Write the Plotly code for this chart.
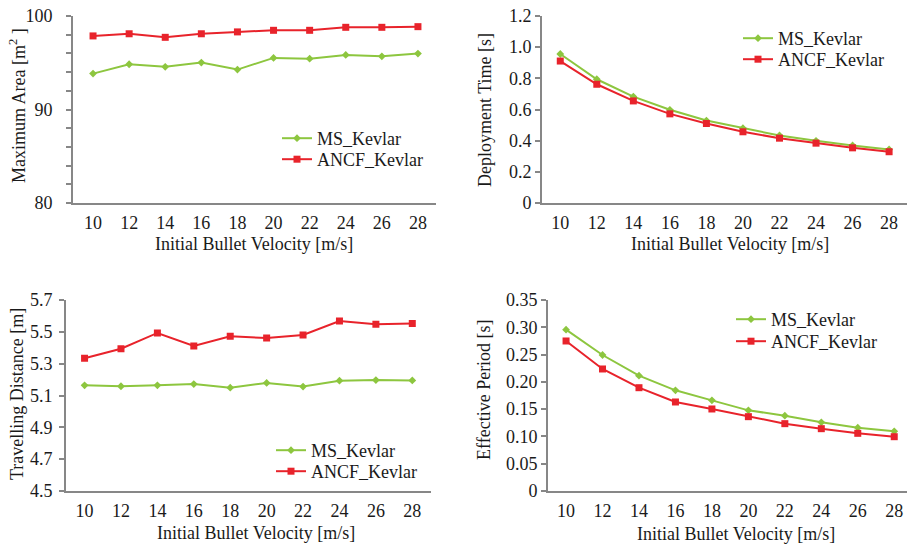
import plotly.graph_objects as go

# Initial bullet velocity [m/s]
velocity = [10, 12, 14, 16, 18, 20, 22, 24, 26, 28]

# Maximum area [m^2]
area_ms = [93.84, 94.84, 94.56, 95.02, 94.27, 95.52, 95.44, 95.84, 95.69, 95.98]
area_ancf = [97.87, 98.10, 97.72, 98.10, 98.30, 98.47, 98.47, 98.79, 98.79, 98.86]

# Deployment time [s]
deploy_ms = [0.956, 0.794, 0.683, 0.598, 0.529, 0.480, 0.433, 0.399, 0.369, 0.344]
deploy_ancf = [0.911, 0.762, 0.655, 0.572, 0.510, 0.457, 0.416, 0.384, 0.354, 0.329]

# Travelling distance [m]
dist_ms = [5.164, 5.158, 5.164, 5.172, 5.149, 5.179, 5.156, 5.193, 5.197, 5.195]
dist_ancf = [5.334, 5.394, 5.493, 5.411, 5.472, 5.461, 5.480, 5.568, 5.547, 5.553]

# Effective period [s]
period_ms = [0.2956, 0.2492, 0.2113, 0.1845, 0.1661, 0.1478, 0.1380, 0.1258, 0.1160, 0.1093]
period_ancf = [0.2749, 0.2236, 0.1893, 0.1631, 0.1503, 0.1362, 0.1234, 0.1142, 0.1057, 0.0995]

# Labelled ticks of the value axes
area_tickvals = [80, 90, 100]
area_ticktext = ["80", "90", "100"]
deploy_tickvals = [0, 0.2, 0.4, 0.6, 0.8, 1.0, 1.2]
deploy_ticktext = ["0", "0.2", "0.4", "0.6", "0.8", "1.0", "1.2"]
dist_tickvals = [4.5, 4.7, 4.9, 5.1, 5.3, 5.5, 5.7]
dist_ticktext = ["4.5", "4.7", "4.9", "5.1", "5.3", "5.5", "5.7"]
period_tickvals = [0, 0.05, 0.10, 0.15, 0.20, 0.25, 0.30, 0.35]
period_ticktext = ["0", "0.05", "0.10", "0.15", "0.20", "0.25", "0.30", "0.35"]

series_names = ["MS_Kevlar", "ANCF_Kevlar"]
x_title = "Initial Bullet Velocity [m/s]"

W, H = 907, 546
FONT = "Liberation Serif"
TEXT = "#1a1a1a"
AXIS = "#878787"
GREEN = "#8DC63F"
RED = "#E8232B"


def px_x(p):
    return p / W


def px_y(p):
    return 1 - p / H


panels = [
    dict(ms=area_ms, ancf=area_ancf, xdom=(73, 436), ydom=(16, 203), xr=(8.89, 29.0),
         yr=(80, 100), tv=area_tickvals, tt=area_ticktext, minor=2, ystand=10,
         ytitle="Maximum Area [m<sup>2</sup> ]", ytx=18, yty=106, xtx=254, xty=244,
         leg=(277, 120, 141)),
    dict(ms=deploy_ms, ancf=deploy_ancf, xdom=(542, 907), ydom=(16, 203), xr=(9.0, 28.98),
         yr=(0, 1.2), tv=deploy_tickvals, tt=deploy_ticktext, minor=None, ystand=0,
         ytitle="Deployment Time [s]", ytx=485, yty=110, xtx=730, xty=244,
         leg=(738, 20, 41)),
    dict(ms=dist_ms, ancf=dist_ancf, xdom=(66, 430.5), ydom=(300, 491), xr=(8.98, 29.0),
         yr=(4.5, 5.7), tv=dist_tickvals, tt=dist_ticktext, minor=None, ystand=3,
         ytitle="Travelling Distance [m]", ytx=17, yty=394, xtx=256, xty=533,
         leg=(271, 432, 453)),
    dict(ms=period_ms, ancf=period_ancf, xdom=(548, 907), ydom=(300, 491), xr=(9.01, 28.70),
         yr=(0, 0.35), tv=period_tickvals, tt=period_ticktext, minor=None, ystand=0,
         ytitle="Effective Period [s]", ytx=484, yty=390, xtx=736, xty=534,
         leg=(731, 301, 323)),
]

fig = go.Figure()
annotations = []
layout = {}
legend_no = 0


def legend_key(n):
    return "legend" if n == 1 else f"legend{n}"


for i, p in enumerate(panels, start=1):
    sfx = "" if i == 1 else str(i)
    styles = [
        dict(line=dict(color=GREEN, width=2), marker=dict(symbol="diamond", size=6, color=GREEN)),
        dict(line=dict(color=RED, width=2), marker=dict(symbol="square", size=7, color=RED)),
    ]
    for k, (name, ys, st) in enumerate(zip(series_names, [p["ms"], p["ancf"]], styles)):
        legend_no += 1
        leg = legend_key(legend_no)
        fig.add_trace(go.Scatter(
            x=velocity, y=ys, name=name, mode="lines+markers",
            line=st["line"], marker=st["marker"],
            xaxis=f"x{sfx}", yaxis=f"y{sfx}", legend=leg,
        ))
        layout[leg] = dict(
            x=px_x(p["leg"][0]), y=px_y(p["leg"][1 + k]), xanchor="left", yanchor="top",
            bgcolor="rgba(0,0,0,0)", borderwidth=0, itemwidth=30,
            font=dict(family=FONT, size=18, color=TEXT),
        )

    layout[f"xaxis{sfx}"] = dict(
        domain=[px_x(p["xdom"][0]), px_x(p["xdom"][1])],
        anchor=f"y{sfx}", range=list(p["xr"]),
        tickmode="array", tickvals=velocity, ticktext=[str(v) for v in velocity],
        showline=True, linecolor=AXIS, linewidth=2,
        ticks="outside", ticklen=0, tickcolor="rgba(0,0,0,0)",
        ticklabelstandoff=2,
        showgrid=False, zeroline=False, automargin=False,
        tickfont=dict(family=FONT, size=18, color=TEXT),
    )
    yax = dict(
        domain=[px_y(p["ydom"][1]), px_y(p["ydom"][0])],
        anchor=f"x{sfx}", range=list(p["yr"]),
        tickmode="array", tickvals=p["tv"], ticktext=p["tt"],
        showline=True, linecolor=AXIS, linewidth=2,
        ticks="outside", ticklen=5, tickwidth=1.5, tickcolor=AXIS,
        ticklabelstandoff=p["ystand"],
        showgrid=False, zeroline=False, automargin=False,
        tickfont=dict(family=FONT, size=18, color=TEXT),
    )
    if p["minor"]:
        yax["minor"] = dict(dtick=p["minor"], tick0=p["yr"][0], ticks="outside",
                            ticklen=5, tickwidth=1.5, tickcolor=AXIS, showgrid=False)
    layout[f"yaxis{sfx}"] = yax

    annotations.append(dict(
        text=x_title, xref="paper", yref="paper",
        x=px_x(p["xtx"]), y=px_y(p["xty"]), xanchor="center", yanchor="middle",
        showarrow=False, font=dict(family=FONT, size=18, color=TEXT),
    ))
    annotations.append(dict(
        text=p["ytitle"], xref="paper", yref="paper", textangle=-90,
        x=px_x(p["ytx"]), y=px_y(p["yty"]), xanchor="center", yanchor="middle",
        showarrow=False, font=dict(family=FONT, size=18, color=TEXT),
    ))

fig.update_layout(
    width=W, height=H, margin=dict(l=0, r=0, t=0, b=0),
    paper_bgcolor="white", plot_bgcolor="white",
    showlegend=True, annotations=annotations, **layout,
)

fig.write_html("out.html")
